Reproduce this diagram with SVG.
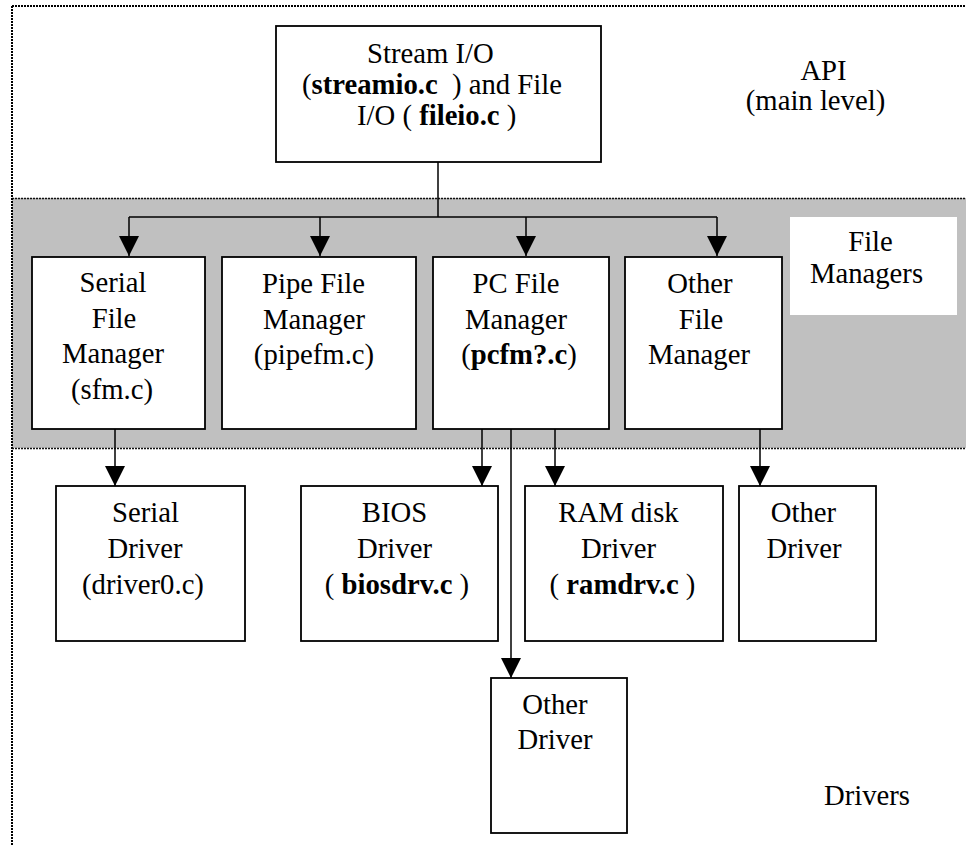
<svg xmlns="http://www.w3.org/2000/svg" width="966" height="846" viewBox="0 0 966 846">
<style>
text{font-family:"Liberation Serif","Times New Roman",serif;font-size:28.7px;fill:#000}
.c{text-anchor:middle}
.b{font-weight:bold}
.box{fill:#fff;stroke:#000;stroke-width:1.8}
.con{fill:none;stroke:#000;stroke-width:1.5}
.outer{stroke:#000;stroke-width:2;stroke-dasharray:2 1;fill:none}
.band{stroke:#111;stroke-width:1.5;stroke-dasharray:2 1;fill:none}
</style>
<defs>
<marker id="ah" markerUnits="userSpaceOnUse" viewBox="0 0 20 20" refX="20" refY="10" markerWidth="20" markerHeight="20" orient="auto">
<path d="M0,0 L20,10 L0,20 z" fill="#000"/>
</marker>
</defs>
<rect width="966" height="846" fill="#fff"/>
<g id="band">
<rect x="12" y="198" width="954" height="250" fill="#c0c0c0"/>
<line class="band" x1="12" y1="198.5" x2="966" y2="198.5"/>
<line class="band" x1="12" y1="448.5" x2="966" y2="448.5"/>
</g>
<g id="border">
<line class="outer" x1="12" y1="6" x2="966" y2="6"/>
<line class="outer" x1="12" y1="6" x2="12" y2="846"/>
</g>
<g id="connectors">
<polyline class="con" points="438,162 438,217"/>
<polyline class="con" points="129,217 717,217"/>
<line class="con" x1="129" y1="217" x2="129" y2="256" marker-end="url(#ah)"/>
<line class="con" x1="320" y1="217" x2="320" y2="256" marker-end="url(#ah)"/>
<line class="con" x1="526" y1="217" x2="526" y2="256" marker-end="url(#ah)"/>
<line class="con" x1="717" y1="217" x2="717" y2="256" marker-end="url(#ah)"/>
<line class="con" x1="115" y1="428" x2="115" y2="486" marker-end="url(#ah)"/>
<line class="con" x1="482" y1="428" x2="482" y2="486" marker-end="url(#ah)"/>
<line class="con" x1="555" y1="428" x2="555" y2="486" marker-end="url(#ah)"/>
<line class="con" x1="760" y1="428" x2="760" y2="486" marker-end="url(#ah)"/>
<line class="con" x1="511" y1="428" x2="511" y2="678" marker-end="url(#ah)"/>
</g>
<g id="api-box">
<rect class="box" x="276" y="26" width="325" height="136"/>
<text x="367" y="63">Stream I/O</text>
<text x="302" y="94" xml:space="preserve">(<tspan class="b">streamio.c</tspan>  ) and File</text>
<text x="357" y="125" xml:space="preserve">I/O ( <tspan class="b">fileio.c</tspan> )</text>
</g>
<g id="api-label">
<text class="c" x="823.5" y="80">API</text>
<text class="c" x="815.5" y="110">(main level)</text>
</g>
<g id="serial-fm">
<rect class="box" x="32" y="257" width="173" height="172"/>
<text class="c" x="113" y="292">Serial</text>
<text class="c" x="114" y="327.5">File</text>
<text class="c" x="113" y="363">Manager</text>
<text class="c" x="112" y="398.5">(sfm.c)</text>
</g>
<g id="pipe-fm">
<rect class="box" x="222" y="257" width="194" height="172"/>
<text class="c" x="313.5" y="293">Pipe File</text>
<text class="c" x="314" y="328.5">Manager</text>
<text class="c" x="314" y="364">(pipefm.c)</text>
</g>
<g id="pc-fm">
<rect class="box" x="433" y="257" width="176" height="172"/>
<text class="c" x="516" y="293">PC File</text>
<text class="c" x="516" y="328.5">Manager</text>
<text class="c" x="519" y="364">(<tspan class="b">pcfm?.c</tspan>)</text>
</g>
<g id="other-fm">
<rect class="box" x="625" y="257" width="157" height="172"/>
<text class="c" x="700" y="293">Other</text>
<text class="c" x="701" y="328.5">File</text>
<text class="c" x="699" y="364">Manager</text>
</g>
<g id="fm-label">
<rect x="790" y="217" width="167" height="98" fill="#fff"/>
<text class="c" x="870.5" y="251">File</text>
<text class="c" x="866.5" y="283">Managers</text>
</g>
<g id="serial-driver">
<rect class="box" x="56" y="486" width="189" height="155"/>
<text class="c" x="145.5" y="522">Serial</text>
<text class="c" x="145" y="558">Driver</text>
<text class="c" x="143" y="594">(driver0.c)</text>
</g>
<g id="bios-driver">
<rect class="box" x="301" y="486" width="197" height="155"/>
<text class="c" x="394.5" y="522">BIOS</text>
<text class="c" x="394.5" y="558">Driver</text>
<text class="c" x="397" y="594" xml:space="preserve">( <tspan class="b">biosdrv.c</tspan> )</text>
</g>
<g id="ram-driver">
<rect class="box" x="525" y="486" width="198" height="155"/>
<text class="c" x="618.5" y="522">RAM disk</text>
<text class="c" x="618.5" y="558">Driver</text>
<text class="c" x="622.5" y="594" xml:space="preserve">( <tspan class="b">ramdrv.c</tspan> )</text>
</g>
<g id="other-driver-1">
<rect class="box" x="739" y="486" width="137" height="155"/>
<text class="c" x="803.5" y="522">Other</text>
<text class="c" x="804" y="558">Driver</text>
</g>
<g id="other-driver-2">
<rect class="box" x="491" y="678" width="136" height="155"/>
<text class="c" x="555" y="714">Other</text>
<text class="c" x="555" y="749">Driver</text>
</g>
<g id="drivers-label">
<text class="c" x="867" y="805">Drivers</text>
</g>
</svg>
